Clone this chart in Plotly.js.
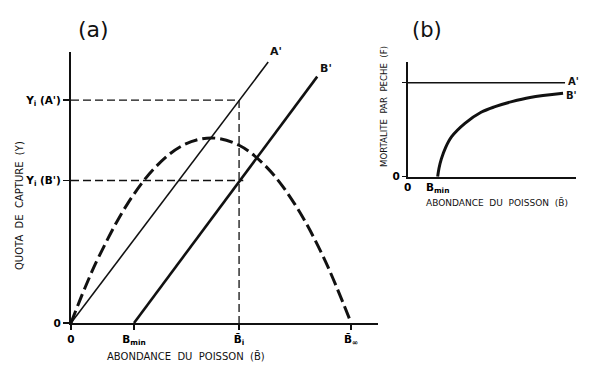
<!DOCTYPE html>
<html>
<head>
<meta charset="utf-8">
<script src="https://cdn.plot.ly/plotly-3.0.1.min.js"></script>
<style>html,body{margin:0;padding:0;background:#fff;}#chart{width:600px;height:374px;}</style>
</head>
<body>
<div id="chart"></div>
<script>
// ---- Panel (a): catch quota vs fish abundance ----
var lineAx = [0, 70.4];
var lineAy = [0, 93.2];
var lineBx = [22.5, 87.9];
var lineBy = [0, 88.0];
var curveX = [0, 5, 10, 20, 30, 40, 50, 60, 70, 80, 90, 100];
var curveY = [0, 12.6, 23.8, 42.3, 55.5, 63.5, 66.1, 63.5, 55.5, 42.3, 23.8, 0];
var Bi = 60;
var YiA = 79.6;
var YiB = 50.9;
var xTickVals = [0, 22.5, 60, 100];
var xTickText = ['0', 'B<sub>min</sub>', 'B\u0304<sub>i</sub>', 'B\u0304<sub>\u221e</sub>'];
var yTickVals = [0, YiB, YiA];
var yTickText = ['0', 'Y<sub>i</sub> (B\')', 'Y<sub>i</sub> (A\')'];

// ---- Panel (b): fishing mortality vs fish abundance ----
var fAx = [0, 93.5];
var fAy = [1, 1];
var fBx = [17.8, 18.6, 20.0, 22.5, 26.1, 34.0, 43.6, 51.9, 61.8, 72.7, 92.3];
var fBy = [0, 0.09, 0.19, 0.31, 0.426, 0.568, 0.685, 0.745, 0.798, 0.843, 0.887];
var bXTickVals = [0, 17.8];
var bXTickText = ['0', 'B<sub>min</sub>'];
var bYTickVals = [0, 1];
var bYTickText = ['0', ''];

var tickFont = {family: 'DejaVu Sans, sans-serif', size: 10.5, color: '#000', weight: 'bold'};
var ink = '#111';

function ann(text, x, y, size, extra) {
  var a = {text: text, xref: 'paper', yref: 'paper', x: x / 600, y: 1 - y / 374, showarrow: false,
           xanchor: 'center', yanchor: 'middle',
           font: {family: 'DejaVu Sans, sans-serif', size: size, color: ink}};
  for (var k in (extra || {})) a[k] = extra[k];
  return a;
}

var traces = [
  {x: curveX, y: curveY, xaxis: 'x', yaxis: 'y', mode: 'lines', line: {color: ink, width: 3, dash: '13px,5px', shape: 'spline'}},
  {x: lineAx, y: lineAy, xaxis: 'x', yaxis: 'y', mode: 'lines', line: {color: ink, width: 1.6}},
  {x: lineBx, y: lineBy, xaxis: 'x', yaxis: 'y', mode: 'lines', line: {color: ink, width: 2.6}},
  {x: [0, Bi, Bi], y: [YiA, YiA, 0], xaxis: 'x', yaxis: 'y', mode: 'lines', line: {color: ink, width: 1.3, dash: '8px,4px'}},
  {x: [0, Bi + 1.5], y: [YiB, YiB], xaxis: 'x', yaxis: 'y', mode: 'lines', line: {color: ink, width: 1.3, dash: '8px,4px'}},
  {x: fAx, y: fAy, xaxis: 'x2', yaxis: 'y2', mode: 'lines', line: {color: ink, width: 1.6}},
  {x: fBx, y: fBy, xaxis: 'x2', yaxis: 'y2', mode: 'lines', line: {color: ink, width: 3, shape: 'spline', smoothing: 1}}
];

var labFont = {family: 'DejaVu Sans, sans-serif', size: 11, color: ink, weight: 'bold'};
var labFontB = {family: 'DejaVu Sans, sans-serif', size: 10, color: ink, weight: 'bold'};

var layout = {
  width: 600, height: 374,
  margin: {l: 0, r: 0, t: 0, b: 0},
  paper_bgcolor: '#fff', plot_bgcolor: 'rgba(0,0,0,0)',
  showlegend: false,
  xaxis: {domain: [71/600, 378/600], range: [0, 109.6], showline: true, linewidth: 2, linecolor: ink,
          showgrid: false, zeroline: false, ticks: 'outside', ticklen: 5, tickwidth: 1.5, tickcolor: ink,
          tickvals: xTickVals, ticktext: xTickText, tickfont: tickFont, anchor: 'y'},
  yaxis: {domain: [51/374, 322/374], range: [0, 96.8], showline: true, linewidth: 2, linecolor: ink,
          showgrid: false, zeroline: false, ticks: 'outside', ticklen: 6, tickwidth: 1.5, tickcolor: ink,
          tickvals: yTickVals, ticktext: yTickText, tickfont: tickFont, anchor: 'x'},
  xaxis2: {domain: [407.7/600, 576/600], range: [0, 100], showline: true, linewidth: 1.8, linecolor: ink,
          showgrid: false, zeroline: false, ticks: '', tickvals: bXTickVals, ticktext: bXTickText,
          tickfont: tickFont, anchor: 'y2'},
  yaxis2: {domain: [197.3/374, 312/374], range: [0, 1.22], showline: true, linewidth: 1.8, linecolor: ink,
          showgrid: false, zeroline: false, ticks: 'outside', ticklen: 4, tickwidth: 1.5, tickcolor: ink,
          tickvals: bYTickVals, ticktext: bYTickText, tickfont: tickFont, anchor: 'x2'},
  annotations: [
    ann('(a)', 93, 30, 22),
    ann('(b)', 427, 30, 21),
    ann('ABONDANCE  DU  POISSON  (B\u0304)', 186, 356, 10),
    ann('QUOTA  DE  CAPTURE  (Y)', 19, 206, 10, {textangle: -90}),
    ann('ABONDANCE  DU  POISSON  (B\u0304)', 497, 202, 9),
    ann('MORTALITE  PAR  PECHE  (F)', 384, 107, 8.6, {textangle: -90}),
    {text: "A'", xref: 'x', yref: 'y', x: lineAx[1], y: lineAy[1], xanchor: 'left', yanchor: 'bottom', yshift: 2, showarrow: false, font: labFont},
    {text: "B'", xref: 'x', yref: 'y', x: lineBx[1], y: lineBy[1], xanchor: 'left', yanchor: 'bottom', xshift: 1, showarrow: false, font: labFont},
    {text: "A'", xref: 'x2', yref: 'y2', x: fAx[1], y: fAy[1], xanchor: 'left', yanchor: 'middle', xshift: 1, yshift: 1, showarrow: false, font: labFontB},
    {text: "B'", xref: 'x2', yref: 'y2', x: fBx[fBx.length - 1], y: fBy[fBy.length - 1], xanchor: 'left', yanchor: 'middle', xshift: 1, yshift: -2, showarrow: false, font: labFontB}
  ]
};

Plotly.newPlot('chart', traces, layout, {displayModeBar: false, staticPlot: true});
</script>
</body>
</html>
